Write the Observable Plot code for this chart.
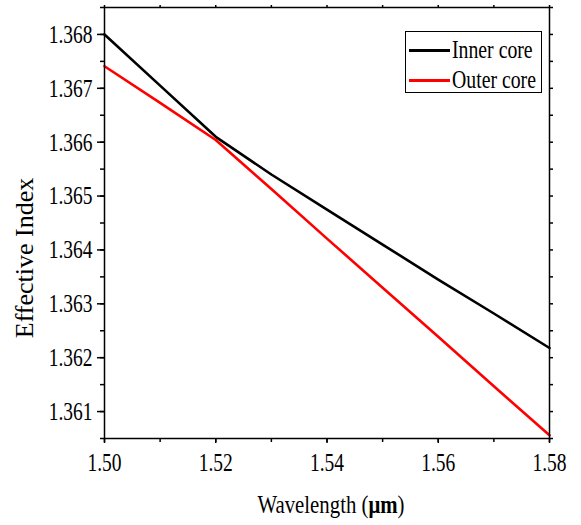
<!DOCTYPE html>
<html><head><meta charset="utf-8">
<script src="https://cdn.jsdelivr.net/npm/d3@7"></script>
<script src="https://cdn.jsdelivr.net/npm/@observablehq/plot@0.6"></script>
<style>
body{margin:0;background:#fff}
#wrap{position:relative;width:581px;height:525px}
#legend{position:absolute;left:405px;top:31px;width:137px;height:62px;border:1px solid #000;box-sizing:border-box;background:#fff;font-family:"Liberation Serif",serif;font-size:26px;color:#000}
#legend .row{position:absolute;left:3px;height:30px;display:flex;align-items:center}
#legend .sw{width:41px;height:0;border-top:3px solid #000;margin-right:2px}
#legend .lb{display:inline-block;transform:scaleX(0.76);transform-origin:left center;white-space:nowrap}
</style></head>
<body><div id="wrap"></div>
<script>
const wavelength = [1.50, 1.51, 1.52, 1.53, 1.54, 1.55, 1.56, 1.57, 1.58];
const innerCore  = [1.36800, 1.36705, 1.36610, 1.36540, 1.36475, 1.36410, 1.36345, 1.36282, 1.36218];
const outerCore  = [1.36741, 1.36673, 1.36604, 1.36513, 1.36421, 1.36330, 1.36239, 1.36147, 1.36056];
const seriesNames = ["Inner core", "Outer core"];
const seriesColors = ["#000000", "#ff0000"];
const xTickLabels = [1.50, 1.52, 1.54, 1.56, 1.58];
const xMinorTicks = [1.50, 1.51, 1.52, 1.53, 1.54, 1.55, 1.56, 1.57, 1.58];
const yTickLabels = [1.361, 1.362, 1.363, 1.364, 1.365, 1.366, 1.367, 1.368];
const yMinorTicks = [1.3605, 1.3610, 1.3615, 1.3620, 1.3625, 1.3630, 1.3635, 1.3640, 1.3645, 1.3650, 1.3655, 1.3660, 1.3665, 1.3670, 1.3675, 1.3680, 1.3685];
const xTitle = "Wavelength (";
const xTitleUnit = "μm";
const yTitle = "Effective Index";

const rows = [];
wavelength.forEach((w, i) => {
  rows.push({x: w, y: innerCore[i], s: seriesNames[0]});
  rows.push({x: w, y: outerCore[i], s: seriesNames[1]});
});

const F = "Liberation Serif";
const chart = Plot.plot({
  width: 581, height: 525,
  marginLeft: 104, marginRight: 32, marginTop: 7, marginBottom: 87,
  style: {fontFamily: F, fontSize: "26px", color: "#000", background: "#fff"},
  x: {domain: [1.50, 1.58], label: null},
  y: {domain: [1.3605, 1.3685], label: null},
  color: {domain: seriesNames, range: seriesColors},
  marks: [
    Plot.axisY(yMinorTicks, {anchor: "left", tickSize: 4, tickFormat: () => "", strokeWidth: 1.5}),
    Plot.axisY(yTickLabels, {anchor: "left", tickSize: 7, tickPadding: 5, tickFormat: d => d.toFixed(3), strokeWidth: 1.5}),
    Plot.axisY(yMinorTicks, {anchor: "right", tickSize: 3, tickFormat: () => "", strokeWidth: 1.5}),
    Plot.axisX(xMinorTicks, {anchor: "top", tickSize: 3, tickFormat: () => "", strokeWidth: 1.5}),
    Plot.axisX(xMinorTicks, {anchor: "bottom", tickSize: 4, tickFormat: () => "", strokeWidth: 1.5}),
    Plot.axisX(xTickLabels, {anchor: "bottom", tickSize: 5, tickPadding: 9, tickFormat: d => d.toFixed(2), strokeWidth: 1.5}),
    Plot.line(rows, {x: "x", y: "y", z: "s", stroke: "s", strokeWidth: 2.6}),
    Plot.frame({stroke: "#000", strokeWidth: 1.5})
  ]
});
const wrap = document.getElementById("wrap");
wrap.appendChild(chart);

// tick labels: large condensed serif look
chart.querySelectorAll("text").forEach(t => {
  t.setAttribute("font-size", "26");
  t.style.fontSize = "26px";
  const tr = t.getAttribute("transform") || "";
  t.setAttribute("transform", tr + " scale(0.75,1)");
});

const NS = "http://www.w3.org/2000/svg";
// y title
const yt = document.createElementNS(NS, "text");
yt.setAttribute("transform", "translate(33,258) rotate(-90)");
yt.setAttribute("text-anchor", "middle");
yt.setAttribute("font-family", F);
yt.setAttribute("font-size", "26");
yt.textContent = yTitle;
chart.appendChild(yt);
// x title
const xt = document.createElementNS(NS, "text");
xt.setAttribute("transform", "translate(331,513) scale(0.8,1)");
xt.setAttribute("text-anchor", "middle");
xt.setAttribute("font-family", F);
xt.setAttribute("font-size", "26");
const t1 = document.createElementNS(NS, "tspan"); t1.textContent = xTitle;
const t2 = document.createElementNS(NS, "tspan"); t2.textContent = xTitleUnit; t2.setAttribute("font-weight", "bold");
const t3 = document.createElementNS(NS, "tspan"); t3.textContent = ")";
xt.append(t1, t2, t3);
chart.appendChild(xt);

// legend
const lg = document.createElement("div");
lg.id = "legend";
seriesNames.forEach((n, i) => {
  const r = document.createElement("div");
  r.className = "row";
  r.style.top = (3 + i * 30) + "px";
  const sw = document.createElement("span"); sw.className = "sw"; sw.style.borderTopColor = seriesColors[i];
  const lb = document.createElement("span"); lb.className = "lb"; lb.textContent = n;
  r.append(sw, lb);
  lg.appendChild(r);
});
wrap.appendChild(lg);
</script>
</body></html>
